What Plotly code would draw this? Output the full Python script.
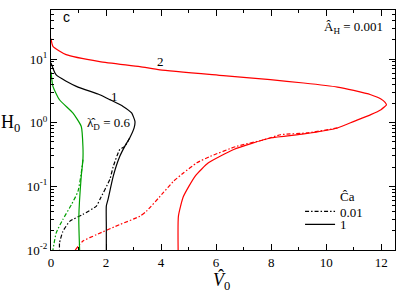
import plotly.graph_objects as go

# ---- data (V0 hat, H0) ----
# red, curve "2", Ca = 1 (solid)
v_red_ca1 = [0.0, 0.07, 0.55, 1.77, 3.23, 3.96, 6.26, 7.97, 9.18, 10.41, 11.0, 11.62,
             11.99, 12.14, 12.19, 12.11, 11.99, 11.62, 11.01, 10.41, 9.19, 7.97, 6.64,
             5.72, 5.24, 4.81, 4.63, 4.62]
h_red_ca1 = [20.9, 15.8, 11.7, 9.12, 7.59, 6.76, 5.5, 4.73, 4.20, 3.63, 3.21, 2.75,
             2.36, 2.08, 1.9, 1.76, 1.60, 1.34, 1.05, 0.826, 0.665, 0.575, 0.38,
             0.234, 0.145, 0.069, 0.034, 0.01]
# red, Ca = 0.01 (dash-dot)
v_red_ca001 = [0.88, 1.16, 1.65, 2.5, 3.23, 3.47, 4.08, 4.45, 4.81, 5.3, 5.78, 6.76,
               7.73, 8.34, 9.3, 10.41]
h_red_ca001 = [0.01, 0.0138, 0.0174, 0.0251, 0.0339, 0.0407, 0.0794, 0.12, 0.162,
               0.234, 0.295, 0.427, 0.537, 0.646, 0.69, 0.826]
# black, curve "1", Ca = 1 (solid)
v_blk_ca1 = [0.0, 0.19, 0.92, 1.77, 2.14, 2.62, 2.93, 3.05, 3.02, 2.86, 2.68, 2.50,
             2.26, 2.07, 2.01, 2.01, 2.01]
h_blk_ca1 = [8.71, 5.62, 3.72, 2.75, 2.30, 1.80, 1.42, 1.05, 0.826, 0.575, 0.425, 0.296,
             0.1435, 0.0618, 0.049, 0.024, 0.01]
# black, Ca = 0.01 (dash-dot)
v_blk_ca001 = [2.86, 2.68, 2.50, 2.26, 2.14, 1.77, 1.65, 1.16, 0.68, 0.43, 0.31, 0.31]
h_blk_ca001 = [0.575, 0.425, 0.38, 0.204, 0.129, 0.0617, 0.049, 0.0363, 0.0282,
               0.0195, 0.0129, 0.01]
# green, lambda_D = 0.6, Ca = 1 (solid)
v_grn_ca1 = [0.0, 0.07, 0.31, 0.8, 1.1, 1.16, 1.16, 1.1, 1.01, 1.04]
h_grn_ca1 = [6.31, 3.72, 2.29, 1.41, 0.871, 0.427, 0.263, 0.145, 0.0316, 0.01]
# green, lambda_D = 0.6, Ca = 0.01 (dash-dot)
v_grn_ca001 = [1.16, 1.1, 0.98, 0.74, 0.43, 0.19, 0.07]
h_grn_ca001 = [0.263, 0.162, 0.0832, 0.0513, 0.0302, 0.0186, 0.01]

x_ticks = [0, 2, 4, 6, 8, 10, 12]
x_minor = [1, 3, 5, 7, 9, 11]
y_ticks = [0.01, 0.1, 1, 10]
y_ticktext = ["10<sup>-2</sup>", "10<sup>-1</sup>", "10<sup>0</sup>", "10<sup>1</sup>"]
y_minor = [k * 10.0 ** e for e in (-2, -1, 0, 1) for k in range(2, 10) if k * 10.0 ** e < 59]
legend_labels = ["0.01", "1"]

RED = "#ff0000"
BLK = "#000000"
GRN = "#00a000"
DASHDOT = "4px,2px,1.5px,2px"
SERIF = "Liberation Serif, Times New Roman, serif"

fig = go.Figure()


def add_curve(v, h, color, dash):
    fig.add_trace(go.Scatter(
        x=v, y=h, mode="lines", showlegend=False, hoverinfo="skip",
        line=dict(color=color, width=1.2, dash=dash, shape="spline", smoothing=0.5)))


add_curve(v_red_ca1, h_red_ca1, RED, "solid")
add_curve(v_red_ca001, h_red_ca001, RED, DASHDOT)
add_curve(v_blk_ca1, h_blk_ca1, BLK, "solid")
add_curve(v_blk_ca001, h_blk_ca001, BLK, DASHDOT)
add_curve(v_grn_ca1, h_grn_ca1, GRN, "solid")
add_curve(v_grn_ca001, h_grn_ca001, GRN, DASHDOT)

# legend entries (one legend each, to match the tight spacing)
for lab, dash, lg in zip(legend_labels, [DASHDOT, "solid"], ["legend", "legend2"]):
    fig.add_trace(go.Scatter(x=[None], y=[None], mode="lines", name=lab, legend=lg,
                             line=dict(color=BLK, width=1.2, dash=dash)))

axis_common = dict(
    showline=True, linecolor="black", linewidth=1, mirror="ticks",
    ticks="inside", ticklen=6, tickwidth=1, tickcolor="black",
    showgrid=False, zeroline=False,
    tickfont=dict(family=SERIF, size=13, color="black"),
)

fig.update_xaxes(range=[0, 12.5], tickvals=x_ticks,
                 minor=dict(tickvals=x_minor, ticks="inside", ticklen=3,
                            tickcolor="black", showgrid=False),
                 **axis_common)
fig.update_yaxes(type="log", range=[-2, 1.77], tickvals=y_ticks, ticktext=y_ticktext,
                 minor=dict(tickvals=y_minor, ticks="inside", ticklen=3,
                            tickcolor="black", showgrid=False),
                 **axis_common)

ann_font = dict(family=SERIF, size=13, color="black")
big_font = dict(family=SERIF, size=18, color="black")


def pa(text, x, y, font, xanchor="center"):
    return dict(text=text, x=x, y=y, xref="paper", yref="paper", showarrow=False,
                xanchor=xanchor, yanchor="middle", font=font)


def da(text, x, y):
    return dict(text=text, x=x, y=y, xref="x", yref="y", showarrow=False,
                xanchor="center", yanchor="middle", font=ann_font)


fig.update_layout(
    width=407, height=296,
    margin=dict(l=51, r=12, t=10, b=46),
    plot_bgcolor="white", paper_bgcolor="white",
    showlegend=True,
    legend=dict(x=0.724, y=0.223, xanchor="left", yanchor="top",
                bgcolor="rgba(0,0,0,0)", font=ann_font, itemwidth=30),
    legend2=dict(x=0.724, y=0.169, xanchor="left", yanchor="top",
                 bgcolor="rgba(0,0,0,0)", font=ann_font, itemwidth=30),
    annotations=[
        pa("c", 0.045, 0.971, dict(family="Liberation Sans", size=14, color="black")),
        da("2", 3.98, 0.955),
        da("1", 2.32, 0.41),
        da("\u03bb\u0302<sub>D</sub> = 0.6", 2.1, -0.02),
        pa("A\u0302<sub>H</sub> = 0.001", 0.971, 0.925, ann_font, xanchor="right"),
        pa("C\u0302a", 0.863, 0.221, ann_font),
        pa("H<sub>0</sub>", -0.118, 0.529, big_font),
        pa("<i>V</i><sub>0</sub>", 0.497, -0.133, big_font),
        pa("\u02c6", 0.494, -0.11, big_font),
    ],
)

fig.write_html("out.html", config={"displayModeBar": False},
               post_script="document.body.style.margin='0px';")
